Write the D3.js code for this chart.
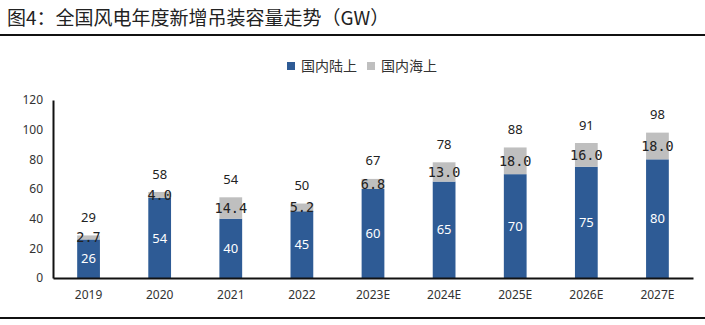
<!DOCTYPE html>
<html>
<head>
<meta charset="utf-8">
<script src="https://cdn.jsdelivr.net/npm/d3@7"></script>
<style>
  body { margin: 0; background: #fff; }
  text { font-family: "Noto Sans CJK SC", "Noto Sans", sans-serif; }
</style>
</head>
<body>
<svg id="chart" width="705" height="325"></svg>
<script>
// yearly new installs, GW
var years = ["2019", "2020", "2021", "2022", "2023E", "2024E", "2025E", "2026E", "2027E"];
var onshore = [26, 54, 40, 45, 60, 65, 70, 75, 80];
var offshore = [2.7, 4.0, 14.4, 5.2, 6.8, 13.0, 18.0, 16.0, 18.0];
var totals = [29, 58, 54, 50, 67, 78, 88, 91, 98];
var yTicks = [0, 20, 40, 60, 80, 100, 120];
var seriesNames = ["国内陆上", "国内海上"];
var colors = ["#2E5B95", "#BFBFBF"];

var svg = d3.select("#chart");

// title + rules
svg.append("text")
  .attr("x", 7).attr("y", 25)
  .style("font-size", "19px").style("fill", "#222")
  .text("图4：全国风电年度新增吊装容量走势（GW）");
svg.append("rect").attr("x", 0).attr("y", 34).attr("width", 705).attr("height", 2).attr("fill", "#111");
svg.append("rect").attr("x", 0).attr("y", 317).attr("width", 705).attr("height", 2).attr("fill", "#111");

var x = d3.scaleBand().domain(years).range([53, 693]).paddingInner(0.68).paddingOuter(0.34);
var y = d3.scaleLinear().domain([0, 120]).range([278, 100]);

// stack the two series
var rows = years.map(function(d, i) { return { year: d, on: onshore[i], off: offshore[i], total: totals[i] }; });
var stack = d3.stack().keys(["on", "off"])(rows);

svg.selectAll("g.layer")
  .data(stack)
  .enter().append("g")
  .attr("fill", function(d, i) { return colors[i]; })
  .selectAll("rect")
  .data(function(d) { return d; })
  .enter().append("rect")
  .attr("x", function(d) { return x(d.data.year); })
  .attr("y", function(d) { return y(d[1]); })
  .attr("width", x.bandwidth())
  .attr("height", function(d) { return y(d[0]) - y(d[1]); });

// axes
var yAxis = d3.axisLeft(y).tickValues(yTicks).tickSize(0).tickPadding(10);
var gy = svg.append("g").attr("transform", "translate(53,0)").call(yAxis);
gy.select(".domain").attr("stroke", "#111").attr("stroke-width", 2);
gy.selectAll("text").style("font-size", "12px").style("fill", "#333")
  .style("font-family", "'Noto Sans', sans-serif");

var xAxis = d3.axisBottom(x).tickSize(0).tickPadding(12);
var gx = svg.append("g").attr("transform", "translate(0,278)").call(xAxis);
gx.select(".domain").attr("stroke", "#111").attr("stroke-width", 2);
gx.selectAll("text").style("font-size", "12px").style("fill", "#333")
  .style("font-family", "'Noto Sans', sans-serif");

// labels
var cx = function(d) { return x(d.year) + x.bandwidth() / 2; };

svg.selectAll("text.on")
  .data(rows).enter().append("text")
  .attr("x", cx)
  .attr("y", function(d) { return (y(0) + y(d.on)) / 2; })
  .attr("dy", "0.35em").attr("text-anchor", "middle")
  .style("font-size", "13px").style("fill", "#fff")
  .style("font-family", "'Noto Sans', sans-serif")
  .text(function(d) { return d.on; });

svg.selectAll("text.off")
  .data(rows).enter().append("text")
  .attr("x", cx)
  .attr("y", function(d) { return (y(d.on) + y(d.on + d.off)) / 2; })
  .attr("dy", "0.35em").attr("text-anchor", "middle")
  .style("font-size", "13.5px").style("fill", "#222")
  .style("font-family", "'DejaVu Sans Mono', monospace")
  .text(function(d) { return d.off.toFixed(1); });

svg.selectAll("text.total")
  .data(rows).enter().append("text")
  .attr("x", cx)
  .attr("y", function(d) { return y(d.on + d.off) - 18; })
  .attr("dy", "0.35em").attr("text-anchor", "middle")
  .style("font-size", "13px").style("fill", "#222")
  .style("font-family", "'Noto Sans', sans-serif")
  .text(function(d) { return d.total; });

// legend
var legend = svg.append("g");
var lx = [287, 367];
seriesNames.forEach(function(name, i) {
  legend.append("rect").attr("x", lx[i]).attr("y", 62).attr("width", 8).attr("height", 8).attr("fill", colors[i]);
  legend.append("text").attr("x", lx[i] + 14).attr("y", 66).attr("dy", "0.35em")
    .style("font-size", "14px").style("fill", "#333").text(name);
});
</script>
</body>
</html>
